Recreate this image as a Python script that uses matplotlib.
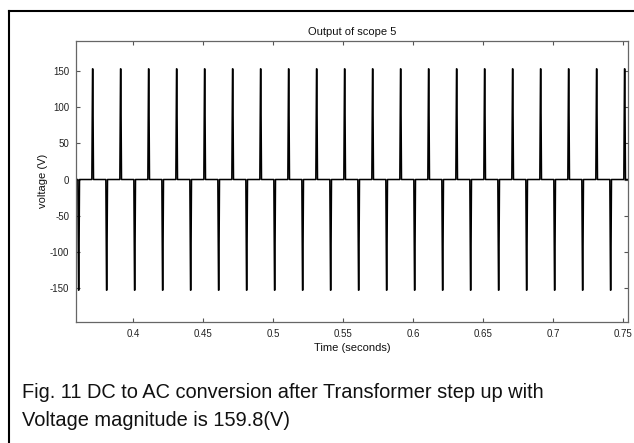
import numpy as np
import matplotlib
matplotlib.use("Agg")
import matplotlib.pyplot as plt
from matplotlib.lines import Line2D

plt.rcParams['font.family'] = ['Liberation Sans', 'DejaVu Sans']
plt.rcParams['axes.unicode_minus'] = False

# spike centres (seconds) and their peak voltage
pos_times = [0.371, 0.391, 0.411, 0.431, 0.451, 0.471, 0.491, 0.511, 0.531, 0.551,
             0.571, 0.591, 0.611, 0.631, 0.651, 0.671, 0.691, 0.711, 0.731, 0.751]
neg_times = [0.361, 0.381, 0.401, 0.421, 0.441, 0.461, 0.481, 0.501, 0.521, 0.541,
             0.561, 0.581, 0.601, 0.621, 0.641, 0.661, 0.681, 0.701, 0.721, 0.741]
peak = 153.0
pulse_dt = [-0.0006, -0.0001, 0.0001, 0.0006]
pulse_shape = [0.0, 1.0, 1.0, 0.0]

xticks = [0.4, 0.45, 0.5, 0.55, 0.6, 0.65, 0.7, 0.75]
yticks = [-150, -100, -50, 0, 50, 100, 150]

# build the trace: zero baseline with narrow pulses
events = sorted([(t, peak) for t in pos_times] + [(t, -peak) for t in neg_times])
t_vals = [0.355]
v_vals = [0.0]
for tc, amp in events:
    for dt, s in zip(pulse_dt, pulse_shape):
        t_vals.append(tc + dt)
        v_vals.append(amp * s)
t_vals.append(0.76)
v_vals.append(0.0)

fig = plt.figure(figsize=(6.34, 4.43), dpi=100)
ax = fig.add_axes([0.1199, 0.2731, 0.8711, 0.6352])
ax.plot(t_vals, v_vals, color='black', linewidth=1.1)

ax.set_xlim(0.3591, 0.7536)
ax.set_ylim(-197, 192)
ax.set_xticks(xticks)
ax.set_xticklabels([f'{x:g}' for x in xticks])
ax.set_yticks(yticks)
ax.tick_params(direction='in', length=3, width=0.8, labelsize=7, colors='#555555',
               labelcolor='#222222', top=True, right=True, pad=5)
for sp in ax.spines.values():
    sp.set_color('#666666')
    sp.set_linewidth(0.9)

ax.set_title('Output of scope 5', fontsize=8, pad=4, color='#111111')
ax.set_xlabel('Time (seconds)', fontsize=8, labelpad=3, color='#111111')
ax.set_ylabel('voltage (V)', fontsize=8, labelpad=1, color='#111111')

# outer frame (top and left edges only)
fig.add_artist(Line2D([9 / 634, 1.0], [1 - 11 / 443, 1 - 11 / 443],
                      transform=fig.transFigure, color='black', linewidth=1.5))
fig.add_artist(Line2D([9 / 634, 9 / 634], [1 - 11 / 443, 0.0],
                      transform=fig.transFigure, color='black', linewidth=1.5))

fig.text(22 / 634, 1 - 392 / 443, 'Fig. 11 DC to AC conversion after Transformer step up with',
         fontsize=14.4, va='center', ha='left', color='#111111')
fig.text(22 / 634, 1 - 421 / 443, 'Voltage magnitude is 159.8(V)',
         fontsize=14.4, va='center', ha='left', color='#111111')

fig.savefig('out.png', dpi=100)
